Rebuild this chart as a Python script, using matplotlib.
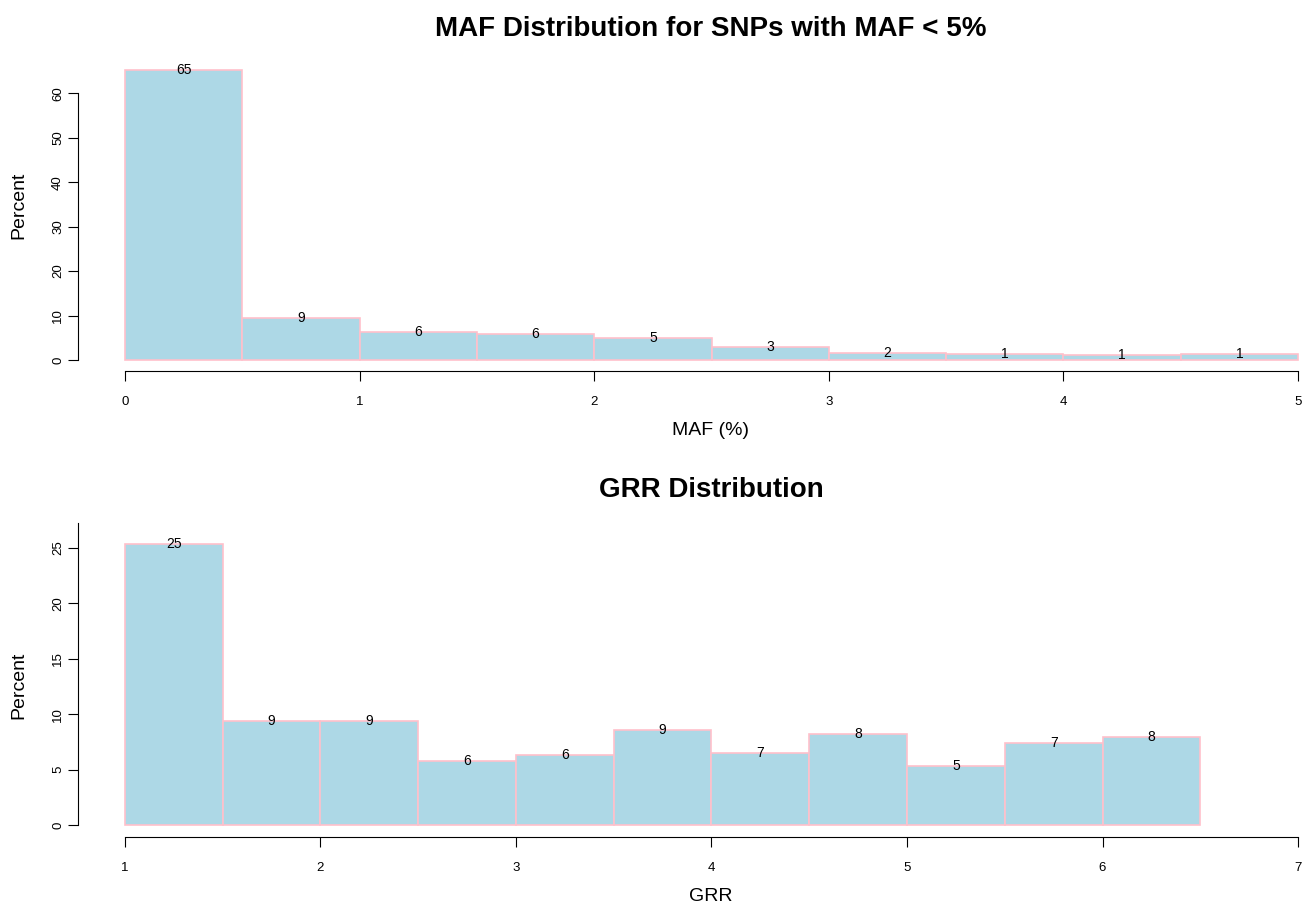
import numpy as np
import matplotlib
matplotlib.use("Agg")
import matplotlib.pyplot as plt

plt.rcParams['font.family'] = ['Liberation Sans', 'DejaVu Sans']

# MAF histogram (percent per 0.5% bin)
maf_edges = [0, 0.5, 1, 1.5, 2, 2.5, 3, 3.5, 4, 4.5, 5]
maf_pct = [65.2, 9.45, 6.35, 5.8, 5.0, 3.0, 1.6, 1.45, 1.2, 1.35]

# GRR histogram (percent per 0.5 bin)
grr_edges = [1, 1.5, 2, 2.5, 3, 3.5, 4, 4.5, 5, 5.5, 6, 6.5]
grr_pct = [25.3, 9.38, 9.38, 5.74, 6.28, 8.6, 6.52, 8.2, 5.35, 7.37, 7.96]

W, H = 1304, 905
fig = plt.figure(figsize=(W / 100, H / 100), dpi=100)

def px_axes(left, top, right, bottom):
    return fig.add_axes([left / W, 1 - bottom / H, (right - left) / W, (bottom - top) / H])

def draw_hist(ax, edges, vals, xticks, yticks, ylim, xlim, yline_top, xlabel, xlab_y, ylab_y):
    edges = np.array(edges)
    widths = np.diff(edges)
    ax.bar(edges[:-1], vals, width=widths, align='edge',
           color='#ADD8E6', edgecolor='#FFC0CB', linewidth=1.2)
    mids = edges[:-1] + widths / 2
    for m, v in zip(mids, vals):
        ax.text(m, v, str(int(round(v))), ha='center', va='center', fontsize=10)
    ax.set_xlim(*xlim)
    ax.set_ylim(*ylim)
    for s in ['top', 'right']:
        ax.spines[s].set_visible(False)
    ax.spines['bottom'].set_bounds(xticks[0], xticks[-1])
    ax.spines['left'].set_bounds(yticks[0], yline_top)
    ax.set_xticks(xticks)
    ax.set_yticks(yticks)
    ax.tick_params(axis='x', length=7, labelsize=9.5, pad=11)
    ax.tick_params(axis='y', length=7, labelsize=9.5, pad=3, labelrotation=90)
    for lab in ax.get_yticklabels():
        lab.set_va('center')
    ax.set_ylabel('Percent', fontsize=14)
    ax.set_xlabel(xlabel, fontsize=14)
    ax.xaxis.set_label_coords(0.518, xlab_y)
    ax.xaxis.label.set_va('center')
    ax.yaxis.set_label_coords(-0.048, ylab_y)
    ax.yaxis.label.set_va('center')

# top panel: y=0 at 360px, 4.444 px/unit
ax1 = px_axes(78, 58, 1300, 371)
draw_hist(ax1, maf_edges, maf_pct, [0, 1, 2, 3, 4, 5], [0, 10, 20, 30, 40, 50, 60],
          (-(371 - 360) / 4.444, (360 - 58) / 4.444), (-0.2, 5.008), 60, 'MAF (%)',
          -0.19, 0.53)

# bottom panel: y=0 at 825px, 11.09 px/unit
ax2 = px_axes(78, 520, 1300, 836.5)
draw_hist(ax2, grr_edges, grr_pct, [1, 2, 3, 4, 5, 6, 7], [0, 5, 10, 15, 20, 25],
          (-(836.5 - 825) / 11.09, (825 - 520) / 11.09), (0.76, 7.01), 27.2, 'GRR',
          -0.19, 0.479)

fig.text(711 / W, 1 - 29 / H, 'MAF Distribution for SNPs with MAF < 5%',
         ha='center', va='center', fontsize=20, fontweight='bold')
fig.text(711 / W, 1 - 490 / H, 'GRR Distribution',
         ha='center', va='center', fontsize=20, fontweight='bold')

fig.savefig('out.png', dpi=100)
